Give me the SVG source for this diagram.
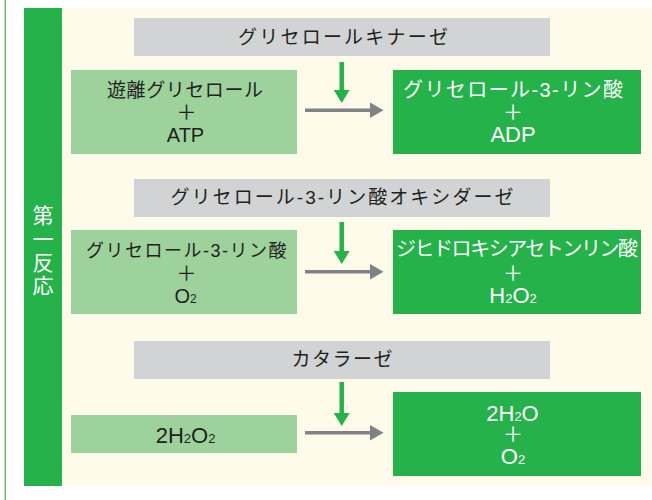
<svg xmlns="http://www.w3.org/2000/svg" width="652" height="500" viewBox="0 0 652 500">
<defs>
<style>
.t{font-family:"Liberation Sans","Noto Sans CJK JP",sans-serif}
.c{text-anchor:middle}
.dk{fill:#231F20}
.wh{fill:#FFFFFF}
.gbox{fill:#D1D3D4}
.lbox{fill:#9DD29C}
.dbox{fill:#25B24B}
.pl{font-family:"Noto Sans CJK JP",sans-serif;font-size:20px;text-anchor:middle}
.ga{stroke:#25B24B;stroke-width:4.5;fill:none}
.ca{stroke:#808285;stroke-width:3.5;fill:none}
</style>
<marker id="mg" markerUnits="userSpaceOnUse" viewBox="0 0 13 16" markerWidth="13" markerHeight="16" refX="1" refY="8" orient="auto">
<path d="M0,0 L13,8 L0,16 Z" fill="#25B24B"/>
</marker>
<marker id="mc" markerUnits="userSpaceOnUse" viewBox="0 0 14 16" markerWidth="14" markerHeight="16" refX="1" refY="8" orient="auto">
<path d="M0,0 L14,8 L0,16 Z" fill="#808285"/>
</marker>
</defs>
<rect x="0" y="0" width="652" height="500" fill="#FFFFFF"/>
<rect x="4.5" y="0" width="1.5" height="500" fill="#6DBE70"/>
<rect x="62" y="8" width="590" height="478" fill="#FEFBEA"/>
<g id="sidebar">
<rect x="24" y="8" width="38" height="478" fill="#25B24B"/>
<g class="t wh" font-size="21" text-anchor="middle">
<text x="43" y="223">第</text>
<text x="43" y="247">一</text>
<text x="43" y="270">反</text>
<text x="43" y="293">応</text>
</g>
</g>
<g id="enzyme1">
<rect class="gbox" x="134" y="18" width="416" height="38"/>
<text class="t dk" x="238" y="43.5" font-size="19" textLength="210" lengthAdjust="spacing">グリセロールキナーゼ</text>
</g>
<g id="sub1">
<rect class="lbox" x="71" y="70" width="226" height="84"/>
<text class="t dk" x="107" y="96.5" font-size="19" textLength="156" lengthAdjust="spacing">遊離グリセロール</text>
<text class="pl dk" x="186.5" y="120">＋</text>
<text class="t dk c" x="185.5" y="142" font-size="20">ATP</text>
</g>
<g id="prod1">
<rect class="dbox" x="393" y="70" width="248" height="84"/>
<text class="t wh" x="403" y="96.5" font-size="20" textLength="220" lengthAdjust="spacing">グリセロール-3-リン酸</text>
<text class="pl wh" x="513" y="120">＋</text>
<text class="t wh c" x="513" y="142" font-size="22">ADP</text>
</g>
<g id="enzyme2">
<rect class="gbox" x="134" y="179" width="416" height="38"/>
<text class="t dk" x="170.5" y="204" font-size="19" textLength="343" lengthAdjust="spacing">グリセロール-3-リン酸オキシダーゼ</text>
</g>
<g id="sub2">
<rect class="lbox" x="71" y="230" width="226" height="84"/>
<text class="t dk" x="86" y="257" font-size="18" textLength="200.5" lengthAdjust="spacing">グリセロール-3-リン酸</text>
<text class="pl dk" x="186.5" y="281">＋</text>
<text class="t dk c" x="185.5" y="302.5" font-size="20">O<tspan font-size="12">2</tspan></text>
</g>
<g id="prod2">
<rect class="dbox" x="393" y="230" width="248" height="84"/>
<text class="t wh" x="396" y="256" font-size="20" textLength="242" lengthAdjust="spacing">ジヒドロキシアセトンリン酸</text>
<text class="pl wh" x="513" y="281">＋</text>
<text class="t wh c" x="513" y="302.5" font-size="22">H<tspan font-size="13">2</tspan>O<tspan font-size="13">2</tspan></text>
</g>
<g id="enzyme3">
<rect class="gbox" x="134" y="341" width="416" height="38"/>
<text class="t dk" x="291.5" y="365.5" font-size="19" textLength="101" lengthAdjust="spacing">カタラーゼ</text>
</g>
<g id="sub3">
<rect class="lbox" x="71" y="415" width="226" height="38"/>
<text class="t dk c" x="185.5" y="443.3" font-size="22">2H<tspan font-size="13">2</tspan>O<tspan font-size="13">2</tspan></text>
</g>
<g id="prod3">
<rect class="dbox" x="393" y="392" width="248" height="84"/>
<text class="t wh c" x="512.5" y="420.7" font-size="22">2H<tspan font-size="13">2</tspan>O</text>
<text class="pl wh" x="513" y="442">＋</text>
<text class="t wh c" x="513" y="464.3" font-size="22">O<tspan font-size="13">2</tspan></text>
</g>
<g id="connectors">
<path class="ga" d="M341.7,62 V91" marker-end="url(#mg)"/>
<path class="ca" d="M305,110.3 H370.5" marker-end="url(#mc)"/>
<path class="ga" d="M341.7,222 V252" marker-end="url(#mg)"/>
<path class="ca" d="M305,271.7 H370.5" marker-end="url(#mc)"/>
<path class="ga" d="M341.7,382 V414" marker-end="url(#mg)"/>
<path class="ca" d="M305,432.7 H370.5" marker-end="url(#mc)"/>
</g>
</svg>
